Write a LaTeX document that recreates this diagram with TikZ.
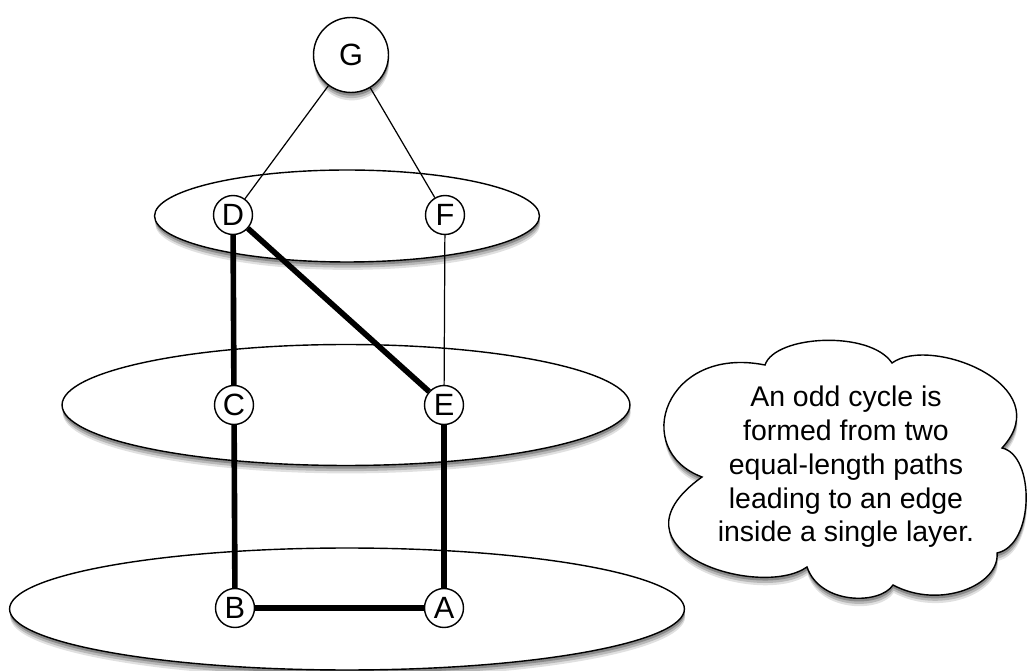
\documentclass[tikz,border=0pt]{standalone}
\usepackage{fontspec}
\setmainfont{Liberation Sans}
\usepackage{xcolor}
\usetikzlibrary{shapes.geometric,shadows}

\tikzset{
    soft/.style={
        drop shadow={shadow xshift=0.4pt, shadow yshift=-4.5pt, opacity=0.12, fill=black},
        drop shadow={shadow xshift=0.3pt, shadow yshift=-3.2pt, opacity=0.18, fill=black},
        drop shadow={shadow xshift=0.2pt, shadow yshift=-1.8pt, opacity=0.25, fill=black}},
    layer/.style={draw, ellipse, fill=white, line width=0.8pt, inner sep=0pt, soft},
    vertex/.style={draw, circle, fill=white, line width=0.8pt, inner sep=0pt, minimum size=0.78cm, font=\fontsize{17.5}{18}\selectfont},
    thin edge/.style={line width=0.7pt},
    thick edge/.style={line width=3.2pt},
    bubble/.style={draw, fill=white, line width=0.8pt, soft}
}

\begin{document}
\begin{tikzpicture}[x=0.02cm, y=-0.02cm]
    \useasboundingbox (0,0) rectangle (1027,671);

    % Layers
    \node[layer, minimum width=7.7cm, minimum height=1.84cm] (top) at (347,216) {};
    \node[layer, minimum width=11.36cm, minimum height=2.42cm] (mid) at (346,405) {};
    \node[layer, minimum width=13.5cm, minimum height=2.44cm] (low) at (347,609) {};

    % Vertices
    \node[vertex, minimum size=1.5cm, soft] (g) at (351,55) {G};
    \node[vertex] (d) at (233,215) {D};
    \node[vertex] (f) at (445,215) {F};
    \node[vertex] (c) at (234,405) {C};
    \node[vertex] (e) at (444,405) {E};
    \node[vertex] (b) at (235,608) {B};
    \node[vertex] (a) at (444,608) {A};

    % Edges
    \draw[thin edge] (g) -- (d);
    \draw[thin edge] (g) -- (f);
    \draw[thin edge] (f) -- (e);
    \draw[thick edge] (d) -- (c);
    \draw[thick edge] (d) -- (e);
    \draw[thick edge] (c) -- (b);
    \draw[thick edge] (e) -- (a);
    \draw[thick edge] (b) -- (a);

    % Note
    \draw[bubble] (765,365) .. controls (775,335) and (870,330) .. (892,363)
        .. controls (930,335) and (1060,385) .. (1002,448)
        .. controls (1035,455) and (1035,545) .. (997,553)
        .. controls (1000,585) and (940,610) .. (893,585)
        .. controls (880,605) and (820,605) .. (807,567)
        .. controls (760,600) and (600,550) .. (702,477)
        .. controls (630,450) and (665,345) .. (765,365) -- cycle;
    \node[align=center, font=\fontsize{16.2}{19.2}\selectfont] (note) at (846,467)
        {An odd cycle is\\formed from two\\equal-length paths\\leading to an edge\\inside a single layer.};
\end{tikzpicture}
\end{document}
